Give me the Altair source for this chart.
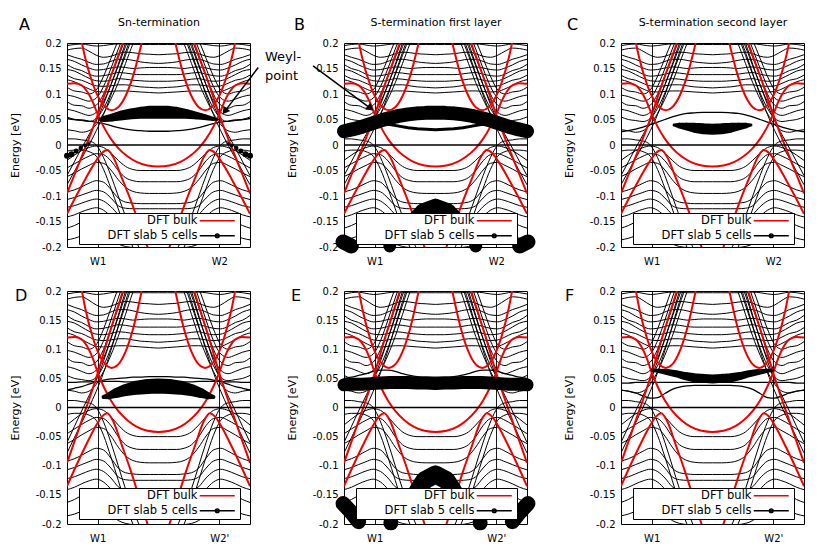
import altair as alt
import pandas as pd

FONT = "DejaVu Sans"
RED = "#f00000"

# ---------------- axis / tick data ----------------
Y_TICKS = [-0.2, -0.15, -0.1, -0.05, 0.0, 0.05, 0.1, 0.15, 0.2]
W_K = [0.168, 0.832]                       # positions of the W points along the path
FERMI = [0.0]
SERIES = ["DFT bulk", "DFT slab 5 cells"]

# k grid of the half path (the path is mirror symmetric about k = 0.5)
K = [0.0, 0.04, 0.08, 0.12, 0.16, 0.2, 0.24, 0.28, 0.32, 0.36, 0.40, 0.45, 0.5]

# ---------------- slab bands (black), values on K ----------------
SLAB = {
    "H1": [0.195, 0.197, 0.198, 0.196, 0.194, 0.195, 0.197, 0.198, 0.198, 0.197, 0.197, 0.197, 0.197],
    "H2": [0.186, 0.189, 0.190, 0.184, 0.176, 0.172, 0.174, 0.179, 0.182, 0.181, 0.179, 0.178, 0.177],
    "H3": [0.177, 0.172, 0.168, 0.162, 0.158, 0.159, 0.164, 0.168, 0.168, 0.166, 0.163, 0.161, 0.160],
    "H4": [0.168, 0.164, 0.157, 0.151, 0.147, 0.148, 0.151, 0.153, 0.152, 0.150, 0.151, 0.152, 0.152],
    "H5": [0.158, 0.150, 0.146, 0.139, 0.135, 0.136, 0.139, 0.142, 0.141, 0.139, 0.138, 0.138, 0.138],
    "H6": [0.148, 0.145, 0.138, 0.131, 0.126, 0.125, 0.127, 0.130, 0.129, 0.127, 0.126, 0.125, 0.125],
    "H7": [0.137, 0.130, 0.127, 0.121, 0.116, 0.115, 0.116, 0.118, 0.118, 0.116, 0.114, 0.113, 0.112],
    "H8": [0.128, 0.124, 0.117, 0.110, 0.105, 0.104, 0.105, 0.106, 0.106, 0.105, 0.104, 0.103, 0.102],
    "U1": [0.113, 0.106, 0.104, 0.100, 0.108, 0.135, 0.170, 0.205, 0.235, 0.255, 0.265, 0.270, 0.270],
    "U2": [0.098, 0.095, 0.090, 0.086, 0.092, 0.115, 0.150, 0.188, 0.222, 0.245, 0.258, 0.263, 0.263],
    "U3": [0.085, 0.078, 0.077, 0.072, 0.078, 0.100, 0.135, 0.172, 0.208, 0.235, 0.250, 0.256, 0.256],
    "U4": [0.070, 0.067, 0.062, 0.058, 0.064, 0.085, 0.118, 0.155, 0.193, 0.225, 0.243, 0.250, 0.250],
    "U5": [0.055, 0.050, 0.048, 0.046, 0.052, 0.072, 0.102, 0.138, 0.176, 0.212, 0.235, 0.245, 0.245],
    "L1": [-0.060, -0.033, -0.006, 0.020, 0.047, 0.080, 0.118, 0.158, 0.200, 0.235, 0.255, 0.262, 0.262],
    "L2": [-0.078, -0.052, -0.026, 0.000, 0.028, 0.060, 0.098, 0.140, 0.182, 0.220, 0.245, 0.255, 0.255],
    "L3": [0.030, 0.028, 0.025, 0.028, 0.040, 0.062, 0.090, 0.122, 0.160, 0.198, 0.228, 0.245, 0.248],
    "S1": [0.012, 0.012, 0.010, 0.008, 0.000, -0.025, -0.060, -0.100, -0.140, -0.175, -0.205, -0.230, -0.240],
    "S2": [-0.012, -0.010, -0.010, -0.013, -0.022, -0.048, -0.085, -0.125, -0.165, -0.200, -0.225, -0.240, -0.245],
    "V1": [-0.030, -0.020, -0.011, -0.005, -0.002, -0.005, -0.016, -0.030, -0.042, -0.048, -0.050, -0.050, -0.050],
    "V2": [-0.045, -0.037, -0.029, -0.022, -0.017, -0.019, -0.031, -0.050, -0.064, -0.070, -0.072, -0.072, -0.072],
    "V3": [-0.062, -0.055, -0.047, -0.040, -0.034, -0.036, -0.049, -0.068, -0.083, -0.091, -0.094, -0.095, -0.095],
    "V5": [-0.092, -0.088, -0.082, -0.075, -0.070, -0.073, -0.087, -0.104, -0.112, -0.114, -0.115, -0.115, -0.115],
    "V6": [-0.107, -0.103, -0.098, -0.093, -0.089, -0.092, -0.104, -0.119, -0.124, -0.125, -0.125, -0.125, -0.125],
    "V7": [-0.122, -0.119, -0.114, -0.109, -0.106, -0.110, -0.121, -0.136, -0.143, -0.146, -0.147, -0.147, -0.147],
    "V8": [-0.141, -0.137, -0.131, -0.126, -0.123, -0.128, -0.140, -0.153, -0.160, -0.163, -0.164, -0.164, -0.164],
    "V9": [-0.163, -0.158, -0.151, -0.145, -0.142, -0.147, -0.159, -0.171, -0.178, -0.181, -0.182, -0.182, -0.182],
    "V10": [-0.186, -0.183, -0.178, -0.173, -0.170, -0.174, -0.184, -0.194, -0.199, -0.201, -0.202, -0.202, -0.202],
}

# ---------------- bulk bands (red): own k points, half path ----------------
BULK = {
    "U": ([0.0, 0.04, 0.08, 0.11, 0.14, 0.168, 0.2, 0.24, 0.28, 0.33, 0.38, 0.44, 0.5],
          [0.120, 0.121, 0.117, 0.105, 0.085, 0.060, 0.036, 0.012, -0.006, -0.022, -0.033, -0.040, -0.042]),
    "C": ([0.0, 0.05, 0.1, 0.168, 0.22, 0.265, 0.305, 0.34],
          [-0.095, -0.050, -0.005, 0.059, 0.115, 0.160, 0.200, 0.240]),
    "P": ([0.07, 0.1, 0.14, 0.18, 0.21, 0.244, 0.28, 0.32, 0.36, 0.41],
          [0.220, 0.170, 0.121, 0.088, 0.074, 0.068, 0.074, 0.096, 0.134, 0.203]),
    "H": ([0.0, 0.05, 0.1, 0.15, 0.19, 0.22, 0.25, 0.3, 0.35, 0.4, 0.43, 0.46],
          [-0.135, -0.100, -0.067, -0.036, -0.016, -0.010, -0.022, -0.065, -0.110, -0.160, -0.190, -0.220]),
}

# ---------------- panels ----------------
PANELS = [
    dict(letter="A", title="Sn-termination", wl=["W1", "W2"],
         extra={"a1": [0.052, 0.050, 0.049, 0.047, 0.045, 0.042, 0.038, 0.034, 0.031, 0.029, 0.028, 0.027, 0.027]},
         trails=[([0.185, 0.2, 0.25, 0.3, 0.35, 0.4, 0.45, 0.5, 0.55, 0.6, 0.65, 0.7, 0.75, 0.8, 0.825],
                  [0.050, 0.051, 0.054, 0.058, 0.061, 0.063, 0.064, 0.064, 0.064, 0.063, 0.061, 0.058, 0.055, 0.051, 0.050],
                  [4, 6, 8, 10, 11, 12, 13, 13, 13, 12, 10, 8, 6, 4, 2])],
         dots=([0.0, 0.025, 0.05, 0.075, 0.1, 0.12, 0.88, 0.9, 0.925, 0.95, 0.975, 1.0],
               [-0.021, -0.018, -0.012, -0.006, -0.001, 0.003, 0.003, -0.001, -0.006, -0.012, -0.018, -0.021],
               [6, 6, 5, 4.5, 4, 3, 3, 4, 4.5, 5, 6, 6])),
    dict(letter="B", title="S-termination first layer", wl=["W1", "W2"],
         extra={},
         trails=[([0.16, 0.2, 0.25, 0.3, 0.35, 0.4, 0.45, 0.5, 0.55, 0.6, 0.65, 0.7, 0.75, 0.8, 0.84],
                  [0.046, 0.043, 0.040, 0.037, 0.034, 0.032, 0.031, 0.030, 0.031, 0.032, 0.034, 0.037, 0.040, 0.043, 0.046],
                  [3] * 15),
                 ([0.0, 0.05, 0.1, 0.15, 0.2, 0.25, 0.3, 0.35, 0.4, 0.45, 0.5, 0.55, 0.6, 0.65, 0.7, 0.75, 0.8, 0.85, 0.9, 0.95, 1.0],
                  [0.027, 0.031, 0.036, 0.042, 0.048, 0.053, 0.057, 0.060, 0.062, 0.063, 0.063, 0.063, 0.062, 0.060, 0.057, 0.053, 0.048, 0.042, 0.036, 0.031, 0.027],
                  [14] * 21),
                 ([0.36, 0.4, 0.44, 0.5, 0.56, 0.6, 0.64],
                  [-0.170, -0.148, -0.133, -0.125, -0.133, -0.148, -0.170],
                  [20] * 7),
                 ([-0.005, 0.04], [-0.190, -0.198], [15, 15]),
                 ([0.96, 1.005], [-0.198, -0.190], [15, 15])],
         dots=([0.25, 0.72], [-0.198, -0.198], [13, 13])),
    dict(letter="C", title="S-termination second layer", wl=["W1", "W2"],
         extra={"c1": [0.026, 0.028, 0.031, 0.035, 0.040, 0.045, 0.050, 0.055, 0.059, 0.062, 0.063, 0.064, 0.064]},
         trails=[([0.29, 0.32, 0.36, 0.4, 0.45, 0.5, 0.55, 0.6, 0.64, 0.68, 0.71],
                  [0.039, 0.038, 0.036, 0.034, 0.032, 0.031, 0.032, 0.034, 0.036, 0.038, 0.039],
                  [3, 6, 8, 10, 11, 11, 11, 10, 8, 6, 3])],
         dots=([], [], [])),
    dict(letter="D", title="", wl=["W1", "W2'"],
         extra={"d1": [0.043, 0.043, 0.044, 0.044, 0.045, 0.045, 0.045, 0.045, 0.044, 0.044, 0.044, 0.044, 0.044],
                "d2": [0.030, 0.033, 0.036, 0.040, 0.044, 0.047, 0.049, 0.050, 0.051, 0.052, 0.052, 0.053, 0.053]},
         trails=[([0.2, 0.23, 0.27, 0.32, 0.38, 0.44, 0.5, 0.56, 0.62, 0.68, 0.73, 0.77, 0.8],
                  [0.018, 0.020, 0.025, 0.030, 0.034, 0.036, 0.037, 0.036, 0.034, 0.030, 0.025, 0.020, 0.018],
                  [4, 7, 10, 12, 14, 15, 15, 15, 14, 12, 10, 7, 4])],
         dots=([], [], [])),
    dict(letter="E", title="", wl=["W1", "W2'"],
         extra={"e1": [0.050, 0.052, 0.055, 0.058, 0.062, 0.064, 0.064, 0.062, 0.058, 0.055, 0.053, 0.052, 0.052]},
         trails=[([0.0, 0.05, 0.1, 0.15, 0.2, 0.25, 0.3, 0.35, 0.4, 0.45, 0.5, 0.55, 0.6, 0.65, 0.7, 0.75, 0.8, 0.85, 0.9, 0.95, 1.0],
                  [0.039, 0.040, 0.040, 0.041, 0.042, 0.043, 0.043, 0.043, 0.042, 0.042, 0.041, 0.042, 0.042, 0.043, 0.043, 0.043, 0.042, 0.041, 0.040, 0.040, 0.039],
                  [13] * 21),
                 ([0.36, 0.4, 0.44, 0.5, 0.56, 0.6, 0.64],
                  [-0.170, -0.145, -0.125, -0.115, -0.125, -0.145, -0.170],
                  [18] * 7),
                 ([-0.005, 0.04, 0.08], [-0.165, -0.180, -0.196], [15, 15, 15]),
                 ([0.92, 0.96, 1.005], [-0.196, -0.180, -0.165], [15, 15, 15])],
         dots=([0.256, 0.744], [-0.198, -0.198], [15, 15])),
    dict(letter="F", title="", wl=["W1", "W2'"],
         extra={"f1": [0.042, 0.042, 0.043, 0.043, 0.043, 0.043, 0.043, 0.043, 0.043, 0.043, 0.043, 0.043, 0.043],
                "f2": [0.030, 0.028, 0.025, 0.020, 0.016, 0.017, 0.024, 0.031, 0.035, 0.037, 0.038, 0.038, 0.038]},
         trails=[([0.17, 0.2, 0.25, 0.3, 0.35, 0.4, 0.45, 0.5, 0.55, 0.6, 0.65, 0.7, 0.75, 0.8, 0.83],
                  [0.064, 0.063, 0.061, 0.058, 0.054, 0.051, 0.050, 0.049, 0.050, 0.051, 0.054, 0.058, 0.061, 0.063, 0.064],
                  [3, 4, 6, 7, 8, 9, 9, 9, 9, 9, 8, 7, 6, 4, 3])],
         dots=([], [], [])),
]

# Weyl-point annotation (panel A text + arrow, panel B arrow), in data units of those panels
WEYL_TEXT = ["Weyl-", "point"]
WEYL_TEXT_K = [1.082, 1.082]
WEYL_TEXT_E = [0.1725, 0.135]
ARROW_A_K, ARROW_A_E = [1.045, 0.862], [0.152, 0.066]
ARROW_B_K, ARROW_B_E = [-0.169, 0.145], [0.155, 0.072]

PANEL_W = 183
PANEL_H = [204, 233]
LEGEND_Y = [170, 197]
# panel letter placement, pixels from the plot's top-left corner
LETTER_X = [-48, -50, -54, -52, -53, -56]
LETTER_Y = [-18, -18, -18, 5, 5, 5]

# legend key symbols, drawn to the right of the right-aligned labels
# (the leading move-to keeps every legend entry's left edge at the same place)
KEY_LINE = "M-1,0M56.5,0L74,0"
KEY_LINE_DOT = "M-1,0M56.5,0L74,0M64.35,0A0.9,0.9,0,1,0,66.15,0A0.9,0.9,0,1,0,64.35,0Z"


def mirrored(name, ks, es):
    rows = []
    if ks[-1] == 0.5:
        fk = ks + [round(1 - k, 4) for k in ks[-2::-1]]
        fe = es + es[-2::-1]
        rows += [dict(band=name, k=k, e=e) for k, e in zip(fk, fe)]
    else:
        rows += [dict(band=name + "L", k=k, e=e) for k, e in zip(ks, es)]
        rows += [dict(band=name + "R", k=round(1 - k, 4), e=e) for k, e in zip(ks[::-1], es[::-1])]
    return rows


slab_rows = []
for n, es in SLAB.items():
    slab_rows += mirrored(n, K, es)
df_slab = pd.DataFrame(slab_rows)

bulk_rows = []
for n, (ks, es) in BULK.items():
    bulk_rows += mirrored(n, ks, es)
df_bulk = pd.DataFrame(bulk_rows)

df_zero = pd.DataFrame({"e": FERMI})
df_series = pd.DataFrame({"series": SERIES})


def make_panel(i):
    P = PANELS[i]
    row = i // 3
    xs = alt.Scale(domain=[0, 1], nice=False, zero=False)
    ys = alt.Scale(domain=[-0.2, 0.2], nice=False, zero=False)
    wl = P["wl"]
    x_bottom = alt.Axis(values=W_K, labelExpr=f'datum.value < 0.5 ? "{wl[0]}" : "{wl[1]}"',
                        grid=True, gridColor="black", gridOpacity=1, gridWidth=0.9,
                        ticks=False, tickSize=0, domain=False, labelPadding=9,
                        labelFontSize=10, title=None)
    y_axis = alt.Axis(values=Y_TICKS, labelExpr="toString(datum.value)", title="Energy [eV]",
                      titleFontSize=11, titleFontWeight="normal", titlePadding=15,
                      labelFontSize=10, labelPadding=6, ticks=False, tickSize=0,
                      labelOverlap=False, domain=False, grid=False)
    if P["title"]:
        x_top = alt.Axis(orient="top", title=P["title"], titleFontSize=11, titleFontWeight="normal",
                         titlePadding=16, labels=False, ticks=False, domain=False, grid=False)
    else:
        x_top = None

    def X(axis=None):
        return alt.X("k:Q", scale=xs, axis=axis)

    def Y():
        return alt.Y("e:Q", scale=ys, axis=y_axis)

    layers = []
    layers.append(alt.Chart(df_slab).mark_line(color="black", strokeWidth=1.0, interpolate="monotone", clip=True)
                  .encode(x=X(x_bottom), y=Y(), detail="band:N"))
    if P["extra"]:
        ex_rows = []
        for n, es in P["extra"].items():
            ex_rows += mirrored(n, K, es)
        layers.append(alt.Chart(pd.DataFrame(ex_rows))
                      .mark_line(color="black", strokeWidth=1.3, interpolate="monotone", clip=True)
                      .encode(x=X(), y=Y(), detail="band:N"))
    layers.append(alt.Chart(df_bulk).mark_line(color=RED, strokeWidth=2, interpolate="monotone", clip=True)
                  .encode(x=X(x_top), y=Y(), detail="band:N"))
    layers.append(alt.Chart(df_zero).mark_rule(color="black", strokeWidth=1.3).encode(y=Y()))
    tr_rows = []
    for j, (ks, es, ws) in enumerate(P["trails"]):
        tr_rows += [dict(blob=j, k=k, e=e, w=w) for k, e, w in zip(ks, es, ws)]
    if tr_rows:
        layers.append(alt.Chart(pd.DataFrame(tr_rows)).mark_trail(color="black")
                      .encode(x=X(), y=Y(), size=alt.Size("w:Q", scale=None), detail="blob:N"))
    dk, de, dd = P["dots"]
    if dk:
        layers.append(alt.Chart(pd.DataFrame({"k": dk, "e": de, "d": dd}))
                      .transform_calculate(area="datum.d * datum.d")
                      .mark_circle(color="black", opacity=1)
                      .encode(x=X(), y=Y(), size=alt.Size("area:Q", scale=None)))
    if P["letter"] == "A":
        layers.append(alt.Chart(pd.DataFrame({"t": WEYL_TEXT, "k": WEYL_TEXT_K, "e": WEYL_TEXT_E}))
                      .mark_text(align="left", baseline="middle", fontSize=13, color="black")
                      .encode(x=X(), y=Y(), text="t:N"))
        arrows = [(ARROW_A_K, ARROW_A_E, 218.5)]
    elif P["letter"] == "B":
        arrows = [(ARROW_B_K, ARROW_B_E, 126.5)]
    else:
        arrows = []
    for ak, ae, ang in arrows:
        dfa = pd.DataFrame({"k": ak, "e": ae})
        layers.append(alt.Chart(dfa).mark_line(color="black", strokeWidth=1.5).encode(x=X(), y=Y()))
        layers.append(alt.Chart(dfa.iloc[[1]]).mark_point(shape="triangle-up", filled=True, color="black",
                                                           opacity=1, size=70, angle=ang)
                      .encode(x=X(), y=Y()))
    # panel letter
    layers.append(alt.Chart(pd.DataFrame({"t": [P["letter"]]}))
                  .mark_text(align="left", baseline="middle", fontSize=16, color="black")
                  .encode(text="t:N", x=alt.value(LETTER_X[i]), y=alt.value(LETTER_Y[i])))
    # key: an invisible (clipped) layer that only feeds the legend
    leg = alt.Legend(orient="none", legendX=12, legendY=LEGEND_Y[row], title=None)
    layers.append(alt.Chart(df_series).mark_point(opacity=0, filled=False, clip=True)
                  .encode(color=alt.Color("series:N", scale=alt.Scale(domain=SERIES, range=[RED, "black"]), legend=leg),
                          shape=alt.Shape("series:N", scale=alt.Scale(domain=SERIES, range=[KEY_LINE, KEY_LINE_DOT]),
                                          legend=leg)))

    return (alt.layer(*layers)
            .resolve_axis(x="independent")
            .properties(width=PANEL_W, height=PANEL_H[row]))


chart = (alt.concat(*[make_panel(i) for i in range(6)], columns=3,
                    spacing={"row": 44, "column": 94}, bounds="flush")
         .resolve_scale(color="independent", shape="independent")
         .properties(padding={"left": 0, "top": 7, "right": 0, "bottom": 0})
         .configure(font=FONT)
         .configure_view(stroke="black", strokeWidth=1)
         .configure_axis(labelColor="black", titleColor="black", labelFont=FONT, titleFont=FONT)
         .configure_legend(padding=2, rowPadding=2, fillColor="white", strokeColor="black",
                           labelFont=FONT, labelFontSize=11.5, labelColor="black", labelAlign="right",
                           labelBaseline="middle", labelOffset=105, symbolOffset=0, symbolSize=16,
                           symbolStrokeWidth=1.6, symbolOpacity=1, labelLimit=200))

chart.save("out.html", embed_options={"renderer": "svg", "actions": False})
